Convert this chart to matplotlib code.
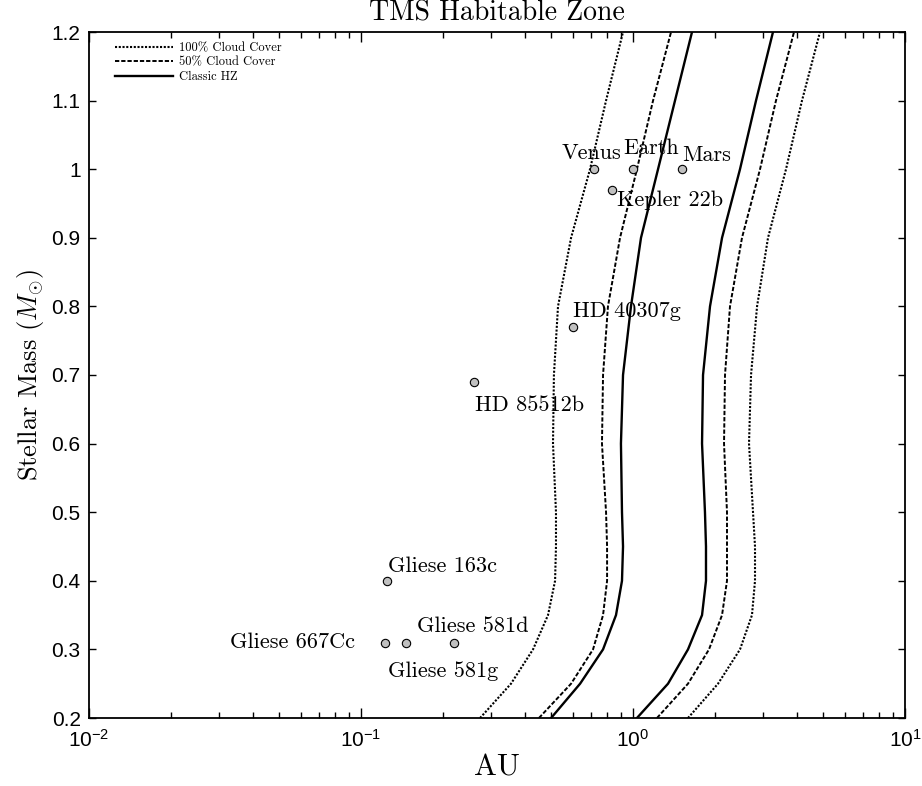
import matplotlib
matplotlib.use("Agg")
import matplotlib.pyplot as plt
from matplotlib.ticker import LogLocator, FixedLocator

plt.rcParams["font.family"] = ["Liberation Sans", "DejaVu Sans"]
plt.rcParams["mathtext.fontset"] = "cm"
SERIF = ["cmr10", "DejaVu Serif"]

# stellar mass grid the zone edges were read at
mass = [0.2, 0.25, 0.3, 0.35, 0.4, 0.45, 0.5, 0.6, 0.7, 0.8, 0.9, 1.0, 1.1, 1.2]

# zone edges in AU
cloud100_inner = [0.274, 0.356, 0.429, 0.487, 0.517, 0.521, 0.521, 0.508, 0.512, 0.530, 0.592, 0.695, 0.796, 0.919]
cloud50_inner = [0.451, 0.592, 0.713, 0.776, 0.803, 0.803, 0.796, 0.769, 0.776, 0.809, 0.896, 1.034, 1.185, 1.380]
classic_inner = [0.500, 0.639, 0.776, 0.866, 0.911, 0.919, 0.911, 0.903, 0.919, 0.983, 1.070, 1.236, 1.427, 1.648]
classic_outer = [1.034, 1.345, 1.593, 1.794, 1.855, 1.855, 1.839, 1.794, 1.809, 1.919, 2.125, 2.474, 2.833, 3.271]
cloud50_outer = [1.225, 1.593, 1.903, 2.125, 2.216, 2.216, 2.216, 2.161, 2.179, 2.273, 2.516, 2.931, 3.355, 3.908]
cloud100_outer = [1.593, 2.054, 2.474, 2.738, 2.809, 2.809, 2.762, 2.670, 2.716, 2.858, 3.136, 3.652, 4.181, 4.870]

# planets
planet_names = ["Venus", "Earth", "Mars", "Kepler 22b", "HD 40307g", "HD 85512b",
                "Gliese 163c", "Gliese 667Cc", "Gliese 581g", "Gliese 581d"]
planet_au = [0.72, 1.0, 1.52, 0.84, 0.60, 0.26, 0.125, 0.123, 0.146, 0.22]
planet_mass = [1.0, 1.0, 1.0, 0.97, 0.77, 0.69, 0.40, 0.31, 0.31, 0.31]

# label placement (pixels from the point) and alignment
label_pos = {
    "Venus": (-3, 10, "center"),
    "Earth": (-10, 15, "left"),
    "Mars": (0, 8, "left"),
    "Kepler 22b": (5, -16, "left"),
    "HD 40307g": (0, 10, "left"),
    "HD 85512b": (1, -29, "left"),
    "Gliese 163c": (1, 9, "left"),
    "Gliese 667Cc": (-30, -5, "right"),
    "Gliese 581g": (-18, -34, "left"),
    "Gliese 581d": (-37, 11, "left"),
}

DOT = (0, (1, 0.8))
DASH = (0, (2.2, 1.0))

fig = plt.figure(figsize=(9.22, 7.86), dpi=100)
ax = fig.add_axes([89 / 922, 68 / 786, 816 / 922, 686 / 786])

ax.plot(cloud100_inner, mass, color="k", ls=DOT, lw=1.5, label="100% Cloud Cover")
ax.plot(cloud50_inner, mass, color="k", ls=DASH, lw=1.4, label="50% Cloud Cover")
ax.plot(classic_inner, mass, color="k", ls="-", lw=1.7, label="Classic HZ")
ax.plot(classic_outer, mass, color="k", ls="-", lw=1.7)
ax.plot(cloud50_outer, mass, color="k", ls=DASH, lw=1.4)
ax.plot(cloud100_outer, mass, color="k", ls=DOT, lw=1.5)

ax.plot(planet_au, planet_mass, "o", ms=6, mfc="#c0c0c0", mec="k", mew=0.8, ls="none")
for name, x, y in zip(planet_names, planet_au, planet_mass):
    dx, dy, ha = label_pos[name]
    ax.annotate(name, (x, y), xytext=(dx, dy), textcoords="offset pixels",
                ha=ha, va="baseline", fontsize=16, family=SERIF)

ax.set_xscale("log")
ax.set_xlim(1e-2, 1e1)
ax.set_ylim(0.2, 1.2)
ax.xaxis.set_major_locator(LogLocator(base=10, numticks=10))
ax.xaxis.set_minor_locator(LogLocator(base=10, subs=range(2, 10), numticks=10))
yt = [0.2, 0.3, 0.4, 0.5, 0.6, 0.7, 0.8, 0.9, 1.0, 1.1, 1.2]
ax.yaxis.set_major_locator(FixedLocator(yt))
ax.set_yticklabels(["0.2", "0.3", "0.4", "0.5", "0.6", "0.7", "0.8", "0.9", "1", "1.1", "1.2"])

ax.tick_params(which="both", direction="in", top=True, right=True, labelsize=15, width=1)
ax.tick_params(axis="x", which="major", length=7, pad=8)
ax.tick_params(axis="x", which="minor", length=4)
ax.tick_params(axis="y", which="major", length=5, pad=6)
for s in ax.spines.values():
    s.set_linewidth(1.3)

ax.set_title("TMS Habitable Zone", fontsize=20, family=SERIF, pad=8)
ax.set_xlabel("AU", fontsize=22, family=SERIF, labelpad=2)
ax.set_ylabel(r"Stellar Mass ($M_{\odot}$)", fontsize=19, family=SERIF, labelpad=4)

ax.legend(loc="upper left", frameon=False, prop={"family": SERIF, "size": 9},
          handlelength=4.6, handletextpad=0.5, labelspacing=0.2,
          borderaxespad=0.4, bbox_to_anchor=(0.02, 1.0))

fig.savefig("out.png", dpi=100, facecolor="white")
